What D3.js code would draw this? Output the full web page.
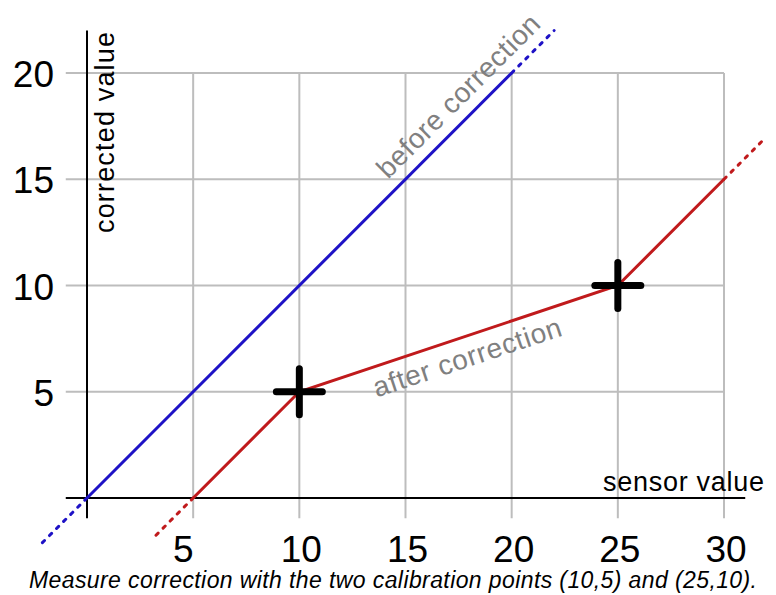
<!DOCTYPE html>
<html>
<head>
<meta charset="utf-8">
<script src="https://cdn.jsdelivr.net/npm/d3@7"></script>
<style>
  body { margin: 0; background: #fff; }
  svg { display: block; font-family: Arial, "Liberation Sans", Helvetica, sans-serif; }
</style>
</head>
<body>
<svg id="chart" width="776" height="595"></svg>
<script>
// data
const xTicks = [5, 10, 15, 20, 25, 30];
const yTicks = [5, 10, 15, 20];
const beforeSolid = [[0, 0], [20, 20]];
const beforeDotted = [[[-2.1, -2.1], [0, 0]], [[20, 20], [22, 22]]];
const afterSolid = [[5, 0], [10, 5], [25, 10], [30, 15]];
const afterDotted = [[[3.25, -1.75], [5, 0]], [[30, 15], [31.85, 16.85]]];
const calibrationPoints = [[10, 5], [25, 10]];
const caption = "Measure correction with the two calibration points (10,5) and (25,10).";

const svg = d3.select("#chart");

const x = d3.scaleLinear().domain([0, 30]).range([87, 724]);
const y = d3.scaleLinear().domain([0, 20]).range([498, 73]);
const line = d3.line().x(d => x(d[0])).y(d => y(d[1]));

const blue = "#1e12c6";
const red = "#c01a1c";
const gray = "#808080";

// grid
const grid = svg.append("g").attr("stroke", "#bdbdbd").attr("stroke-width", 2);
grid.selectAll("line.v").data(xTicks).join("line")
    .attr("x1", d => x(d)).attr("x2", d => x(d))
    .attr("y1", y(20)).attr("y2", y(-0.95));
grid.selectAll("line.h").data(yTicks).join("line")
    .attr("y1", d => y(d)).attr("y2", d => y(d))
    .attr("x1", x(-1)).attr("x2", x(30));

// axes
const axes = svg.append("g").attr("stroke", "#000").attr("stroke-width", 2);
axes.append("line").attr("x1", x(-1)).attr("x2", x(31)).attr("y1", y(0)).attr("y2", y(0));
axes.append("line").attr("x1", x(0)).attr("x2", x(0)).attr("y1", y(-0.95)).attr("y2", y(22));

// tick labels
svg.append("g").selectAll("text").data(xTicks).join("text")
    .attr("x", d => x(d) + (d === 5 ? -10 : 2))
    .attr("y", 562)
    .attr("text-anchor", "middle")
    .attr("font-size", 37)
    .text(d => d);
svg.append("g").selectAll("text").data(yTicks).join("text")
    .attr("x", 54)
    .attr("y", d => y(d) + 14)
    .attr("text-anchor", "end")
    .attr("font-size", 37)
    .text(d => d);

// axis titles
svg.append("text")
    .attr("x", 764).attr("y", 491)
    .attr("text-anchor", "end")
    .attr("font-size", 27)
    .attr("textLength", 161).attr("lengthAdjust", "spacing")
    .text("sensor value");
svg.append("text")
    .attr("transform", "translate(114,32) rotate(-90)")
    .attr("text-anchor", "end")
    .attr("font-size", 27)
    .attr("textLength", 201).attr("lengthAdjust", "spacing")
    .text("corrected value");

// before correction
svg.append("g").selectAll("path").data(beforeDotted).join("path")
    .attr("d", line)
    .attr("fill", "none").attr("stroke", blue).attr("stroke-width", 3)
    .attr("stroke-linecap", "round").attr("stroke-dasharray", "3,7");
svg.append("path").datum(beforeSolid)
    .attr("d", line)
    .attr("fill", "none").attr("stroke", blue).attr("stroke-width", 3);

// after correction
svg.append("g").selectAll("path").data(afterDotted).join("path")
    .attr("d", line)
    .attr("fill", "none").attr("stroke", red).attr("stroke-width", 3)
    .attr("stroke-linecap", "round").attr("stroke-dasharray", "3,7");
svg.append("path").datum(afterSolid)
    .attr("d", line)
    .attr("fill", "none").attr("stroke", red).attr("stroke-width", 3);

// calibration crosses
const cross = svg.append("g").selectAll("g").data(calibrationPoints).join("g")
    .attr("transform", d => `translate(${x(d[0])},${y(d[1])})`)
    .attr("stroke", "#000").attr("stroke-width", 7).attr("stroke-linecap", "round");
cross.append("line").attr("x1", -23).attr("x2", 23);
cross.append("line").attr("y1", -23).attr("y2", 23);

// line labels
function angleOf(p, q) {
    return Math.atan2(y(q[1]) - y(p[1]), x(q[0]) - x(p[0])) * 180 / Math.PI;
}
svg.append("text")
    .attr("transform", `translate(${x(18.2)},${y(18.2)}) rotate(${angleOf(beforeSolid[0], beforeSolid[1])})`)
    .attr("dy", -12)
    .attr("text-anchor", "middle")
    .attr("font-size", 28)
    .attr("textLength", 218).attr("lengthAdjust", "spacing")
    .attr("fill", gray)
    .text("before correction");
svg.append("text")
    .attr("transform", `translate(${x(17.6)},${y(7.53)}) rotate(${angleOf(afterSolid[1], afterSolid[2])})`)
    .attr("dy", 30)
    .attr("text-anchor", "middle")
    .attr("font-size", 28)
    .attr("textLength", 197).attr("lengthAdjust", "spacing")
    .attr("fill", gray)
    .text("after correction");

// caption
svg.append("text")
    .attr("x", 393).attr("y", 588)
    .attr("text-anchor", "middle")
    .attr("font-size", 23)
    .attr("font-style", "italic")
    .attr("textLength", 728).attr("lengthAdjust", "spacing")
    .text(caption);
</script>
</body>
</html>
